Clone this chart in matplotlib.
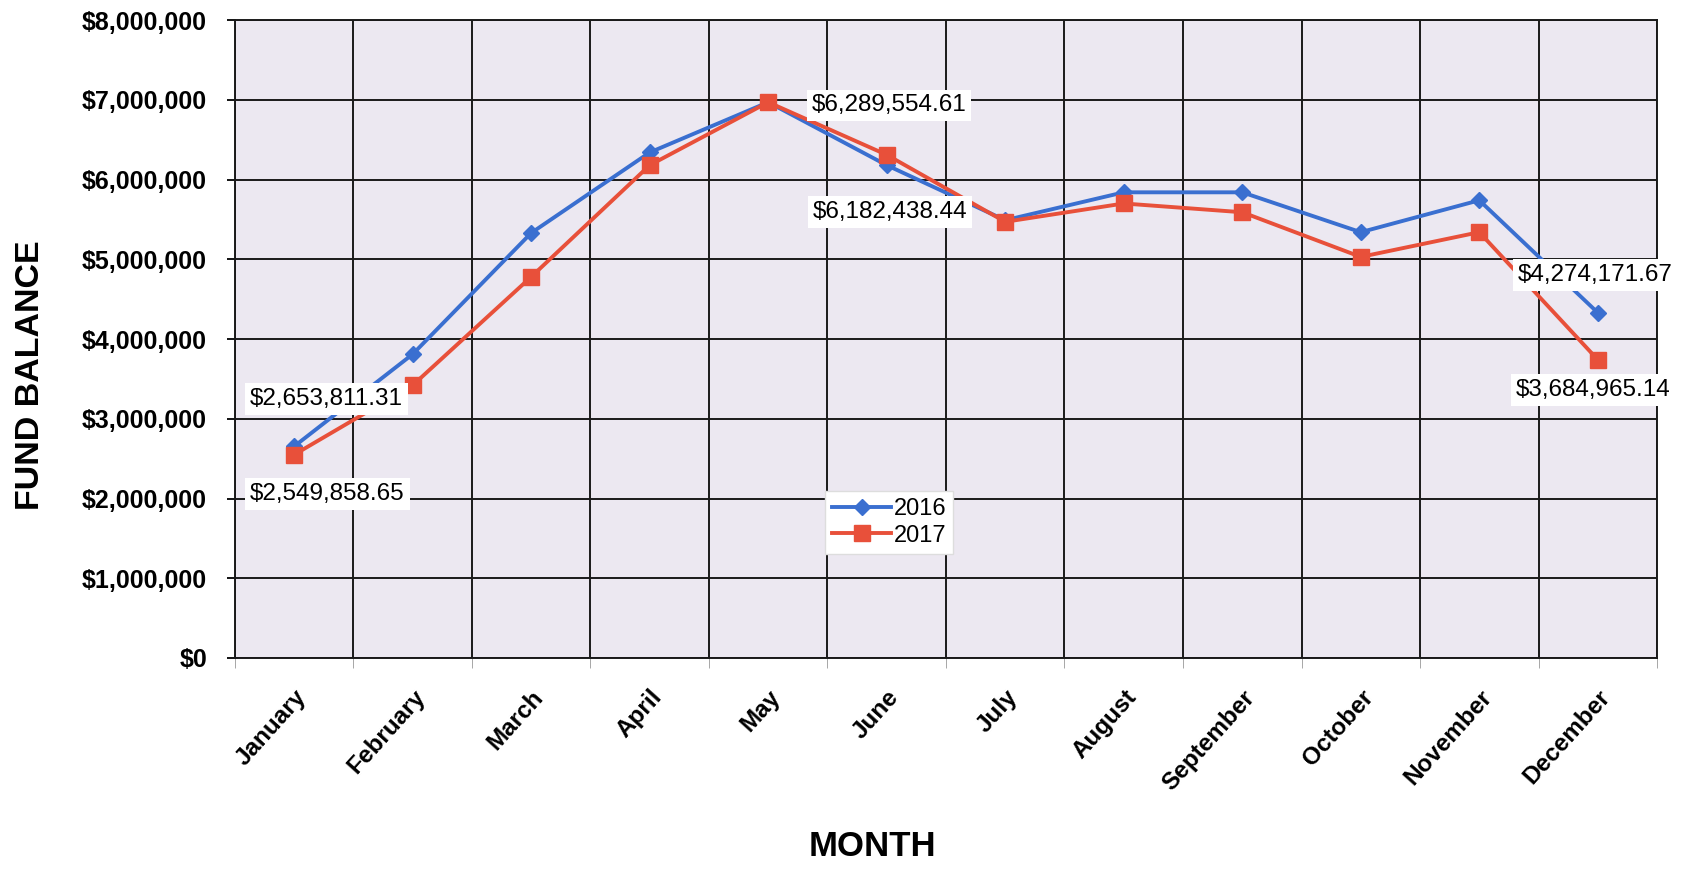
import numpy as np
import matplotlib.pyplot as plt
from matplotlib.ticker import FuncFormatter, FixedLocator

plt.rcParams['font.family'] = ['Liberation Sans', 'DejaVu Sans']

months = ['January', 'February', 'March', 'April', 'May', 'June', 'July',
          'August', 'September', 'October', 'November', 'December']

# values
fund_2016 = [2653811.31, 3810000, 5330000, 6340000, 6970000, 6180000,
             5490000, 5840000, 5840000, 5340000, 5740000, 4330000]
fund_2017 = [2549858.65, 3420000, 4780000, 6180000, 6970000, 6310000,
             5470000, 5700000, 5590000, 5030000, 5340000, 3740000]

# data labels as printed on the chart
labels = ['$2,653,811.31', '$2,549,858.65', '$6,289,554.61',
          '$6,182,438.44', '$4,274,171.67', '$3,684,965.14']
label_pos = [(0.27, 3250000), (0.28, 2060000), (5.02, 6930000),
             (5.03, 5590000), (10.98, 4800000), (10.96, 3360000)]

fig = plt.figure(figsize=(16.9, 8.73), dpi=100)
ax = fig.add_axes([0.139, 0.2463, 0.8415, 0.7307])
ax.set_facecolor('#ece8f1')

x = np.arange(len(months))
ax.plot(x, fund_2016, color='#3a6fd0', lw=2.8, marker='D', ms=8,
        label='2016', zorder=3)
ax.plot(x, fund_2017, color='#e8503a', lw=2.8, marker='s', ms=11,
        label='2017', zorder=3)

for txt, (tx, ty) in zip(labels, label_pos):
    ax.text(tx, ty, txt, fontsize=17.5, ha='center', va='center', zorder=5,
            clip_on=False,
            bbox=dict(boxstyle='square,pad=0.2', fc='white', ec='none'))

ax.set_xlim(-0.5, 11.5)
ax.set_ylim(0, 8000000)
ax.set_yticks(np.arange(0, 8000001, 1000000))
ax.yaxis.set_major_formatter(FuncFormatter(lambda v, p: '${:,.0f}'.format(v)))
ax.set_xticks(x)
ax.set_xticklabels(months, rotation=48, ha='right', rotation_mode='anchor',
                   fontsize=17.5, fontweight='bold')
ax.xaxis.set_minor_locator(FixedLocator(np.arange(-0.5, 12, 1)))
ax.tick_params(axis='x', which='major', length=0, pad=20)
ax.tick_params(axis='x', which='minor', length=7, color='#999999')
ax.tick_params(axis='y', length=6, width=1.3, pad=14)
for t in ax.get_yticklabels():
    t.set_fontsize(18)
    t.set_fontweight('bold')

ax.grid(True, which='minor', axis='x', color='#1a1a1a', lw=1.4)
ax.grid(True, which='major', axis='y', color='#1a1a1a', lw=1.4)
ax.set_axisbelow(True)
for s in ax.spines.values():
    s.set_color('#1a1a1a')
    s.set_linewidth(1.4)

fig.text(0.018, 0.57, 'FUND BALANCE', fontsize=24.5, fontweight='bold',
         rotation=90, ha='center', va='center')
fig.text(0.516, 0.02, 'MONTH', fontsize=25, fontweight='bold', ha='center')

leg = ax.legend(loc='upper left', bbox_to_anchor=(0.415, 0.262),
                fontsize=17, frameon=True, fancybox=False, handlelength=2.5,
                borderpad=0.3, labelspacing=0.2, handletextpad=0.1,
                borderaxespad=0)
leg.get_frame().set_edgecolor('#dddddd')
leg.get_frame().set_alpha(1)

fig.savefig('out.png', dpi=100)
